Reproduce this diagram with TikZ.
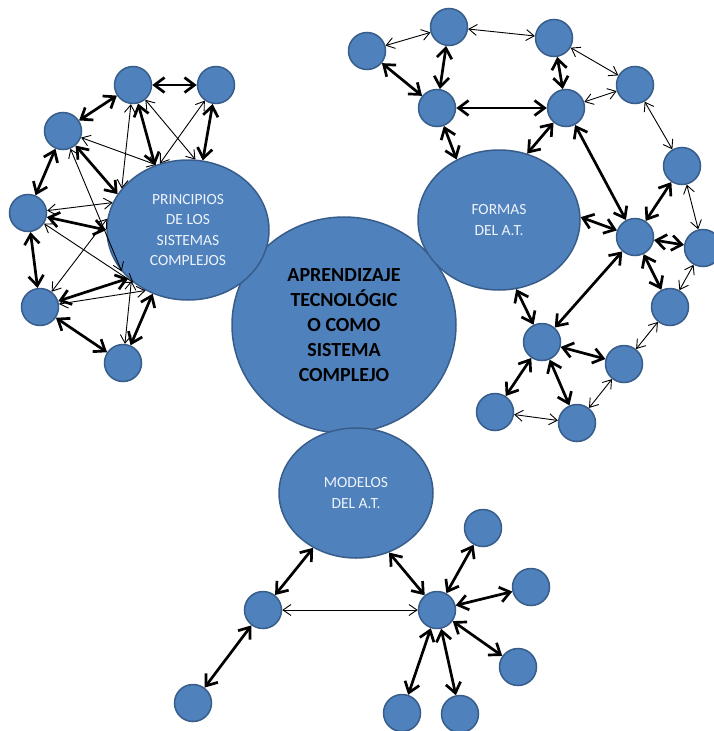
\documentclass[tikz,border=0pt]{standalone}
\usepackage{fontspec}
\setmainfont{Carlito}
\usetikzlibrary{arrows.meta,shapes.geometric}
\definecolor{nodefill}{HTML}{4F81BD}
\definecolor{nodeedge}{HTML}{385D8A}
\definecolor{labeltext}{HTML}{EEF3FA}
\begin{document}
\begin{tikzpicture}[x=1pt,y=-1pt,
  dot/.style={circle,fill=nodefill,draw=nodeedge,line width=1.5pt,minimum size=37pt,inner sep=0pt},
  hub/.style={ellipse,fill=nodefill,draw=nodeedge,line width=1.5pt,inner sep=0pt,align=center},
  sublabel/.style={text=labeltext,font=\fontsize{15.5}{20.5}\selectfont},
  heavy/.style={line width=2.7pt,{Straight Barb[length=10pt,width=15pt]}-{Straight Barb[length=10pt,width=15pt]}},
  light/.style={line width=0.9pt,{Straight Barb[length=8pt,width=11pt]}-{Straight Barb[length=8pt,width=11pt]}},
]
\useasboundingbox (0,0) rectangle (713,731);

% central topic and its three sub-topics
\node[hub,minimum width=224pt,minimum height=216pt,text=black,
      font=\bfseries\fontsize{20}{25}\selectfont] (core) at (344,325)
  {APRENDIZAJE\\TECNOLÓGIC\\O COMO\\SISTEMA\\COMPLEJO};
\node[hub,sublabel,minimum width=162pt,minimum height=140pt] (P) at (188,230)
  {PRINCIPIOS\\DE LOS\\SISTEMAS\\COMPLEJOS};
\node[hub,sublabel,minimum width=162pt,minimum height=140pt] (F) at (499,220)
  {FORMAS\\DEL A.T.};
\node[hub,sublabel,minimum width=154pt,minimum height=130pt] (M) at (356,493)
  {MODELOS\\DEL A.T.};

% left cluster
\node[dot] (L1) at (133,85) {};
\node[dot] (L2) at (216,85) {};
\node[dot] (L3) at (63,131) {};
\node[dot] (L4) at (28,213) {};
\node[dot] (L5) at (40,307) {};
\node[dot] (L6) at (123,363) {};

% right cluster
\node[dot] (R1) at (367,51) {};
\node[dot] (R2) at (449,27) {};
\node[dot] (R3) at (554,38) {};
\node[dot] (R4) at (635,85) {};
\node[dot] (R5) at (437,108) {};
\node[dot] (R6) at (566,108) {};
\node[dot] (R7) at (682,166) {};
\node[dot] (R8) at (635,237) {};
\node[dot] (R9) at (703,248) {};
\node[dot] (R10) at (670,307) {};
\node[dot] (R11) at (542,342) {};
\node[dot] (R12) at (624,364) {};
\node[dot] (R13) at (495,412) {};
\node[dot] (R14) at (577,423) {};

% bottom cluster
\node[dot] (B1) at (263,610) {};
\node[dot] (B2) at (193,703) {};
\node[dot] (B3) at (437,610) {};
\node[dot] (B4) at (483,528) {};
\node[dot] (B5) at (531,587) {};
\node[dot] (B6) at (518,667) {};
\node[dot] (B7) at (402,713) {};
\node[dot] (B8) at (460,714) {};

% left cluster links
\draw[heavy] (L1) -- (L2);
\draw[heavy] (L3) -- (L1);
\draw[heavy] (L1) -- (P.117);
\draw[heavy] (L2) -- (P.78);
\draw[heavy] (L3) -- (L4);
\draw[heavy] (L3) -- (P.153);
\draw[heavy] (L4) -- (P.180);
\draw[heavy] (L4) -- (L5);
\draw[heavy] (L5) -- (P.219);
\draw[heavy] (L5) -- (L6);
\draw[heavy] (L6) -- (P.241);
\draw[light] (L1) -- (P.84);
\draw[light] (L2) -- (P.113);
\draw[light] (L3) -- (P.116);
\draw[light] (L1) -- (P.148);
\draw[light] (L4) -- (P.160);
\draw[light] (L4) -- (P.224);
\draw[light] (L3) -- (P.212);
\draw[light] (L5) -- (P.172);
\draw[light] (L5) -- (P.235);
\draw[light] (L6) -- (P.222);

% right cluster links
\draw[light] (R1) -- (R2);
\draw[light] (R2) -- (R3);
\draw[light] (R3) -- (R4);
\draw[light] (R6) -- (R4);
\draw[light] (R4) -- (R7);
\draw[light] (R7) -- (R9);
\draw[light] (R9) -- (R10);
\draw[light] (R10) -- (R12);
\draw[light] (R12) -- (R14);
\draw[light] (R13) -- (R14);
\draw[heavy] (R1) -- (R5);
\draw[heavy] (R2) -- (R5);
\draw[heavy] (R5) -- (R6);
\draw[heavy] (R3) -- (R6);
\draw[heavy] (R5) -- (F.125);
\draw[heavy] (R6) -- (F.67);
\draw[heavy] (R6) -- (R8);
\draw[heavy] (R7) -- (R8);
\draw[heavy] (F.2) -- (R8);
\draw[heavy] (R8) -- (R9);
\draw[heavy] (R8) -- (R10);
\draw[heavy] (R8) -- (R11);
\draw[heavy] (F.284) -- (R11);
\draw[heavy] (R11) -- (R12);
\draw[heavy] (R11) -- (R13);
\draw[heavy] (R11) -- (R14);

% bottom cluster links
\draw[heavy] (M.232) -- (B1);
\draw[heavy] (M.299) -- (B3);
\draw[light] (B1) -- (B3);
\draw[heavy] (B1) -- (B2);
\draw[heavy] (B3) -- (B4);
\draw[heavy] (B3) -- (B5);
\draw[heavy] (B3) -- (B6);
\draw[heavy] (B3) -- (B7);
\draw[heavy] (B3) -- (B8);
\end{tikzpicture}
\end{document}
